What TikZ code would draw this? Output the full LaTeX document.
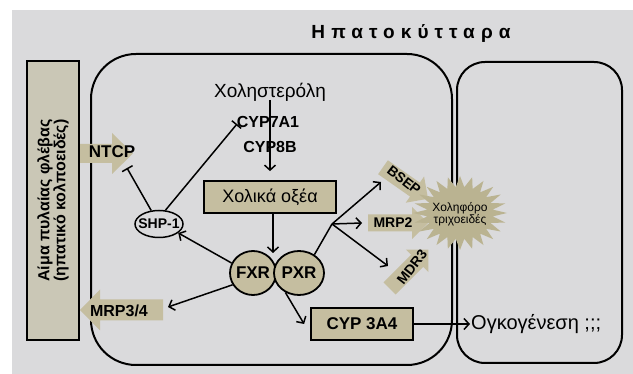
\documentclass[tikz,border=0pt]{standalone}
\usepackage{fontspec}
\setmainfont{Liberation Sans}
\usetikzlibrary{arrows.meta,shapes.geometric}
\definecolor{bg}{RGB}{218,218,220}
\definecolor{kh}{RGB}{197,190,160}
\definecolor{khl}{RGB}{202,199,182}
\definecolor{starc}{RGB}{186,179,145}
\newcommand{\fs}[1]{\fontsize{#1}{#1}\selectfont}
\newcommand{\kar}[7]{%
\begin{scope}[shift={(#1,#2)},rotate=#3]
\fill[kh] (-#4/2,-#5/2) -- (#4/2-#7,-#5/2) -- (#4/2-#7,-#6/2) -- (#4/2,0) -- (#4/2-#7,#6/2) -- (#4/2-#7,#5/2) -- (-#4/2,#5/2) -- cycle;
\end{scope}}
\tikzset{
 arr/.style={line width=1.5pt,-{Straight Barb[length=5pt,width=11pt]}},
 inh/.style={line width=1.5pt,-{Bar[width=12pt]}},
 kbox/.style={draw,line width=1.8pt,fill=kh,inner sep=0pt},
 cell/.style={draw,line width=2pt},
 lbl/.style={font=\bfseries\fs{16},inner sep=0pt},
}
\begin{document}
\begin{tikzpicture}[x=1pt,y=-1pt]
\useasboundingbox (0,0) rectangle (633,374);
\fill[bg] (12,10) rectangle (633,374);
\node[font=\bfseries\fs{19}\addfontfeature{LetterSpace=32}] (title) at (411,33) {Ηπατοκύτταρα};
% cells
\draw[cell,rounded corners=45pt] (91,54) rectangle (452,365);
\draw[cell,rounded corners=28pt] (457,62) rectangle (622,363);
% blood box
\node[draw,line width=1.8pt,fill=khl,rotate=90,minimum width=279,minimum height=52,inner sep=0pt,align=center,font=\bfseries\fs{16}] (blood) at (53,200.5) {Αίμα πυλαίας φλέβας\\(ηπατικό κολποειδές)};
% khaki arrow shapes
\kar{106.5}{153.5}{0}{53}{19}{41}{21}
\kar{121.5}{310}{180}{83}{21}{41}{20}
\kar{398}{223}{0}{60}{17}{32}{16}
\kar{405.5}{183}{-35}{55}{17}{32}{16}
\kar{409}{269}{45}{55}{17}{32}{16}
% starburst
\fill[starc] (507,213) \foreach \i in {1,...,47}{ -- ({460+(47-14*mod(\i,2))*cos(7.5*\i)},{213+(37-11*mod(\i,2))*sin(7.5*\i)}) } -- cycle;
\node[font=\fs{12},align=center,inner sep=0pt] (capil) at (460,214) {Χοληφόρο\\τριχοειδές};
% labels on arrows
\node[lbl,font=\bfseries\fs{17}] (ntcp) at (112,152) {NTCP};
\node[lbl] (mrp34) at (119,311) {MRP3/4};
\node[lbl,font=\bfseries\fs{14}] (mrp2) at (393,223) {MRP2};
\node[lbl,font=\bfseries\fs{14},rotate=-38] (bsep) at (404,180) {BSEP};
\node[lbl,font=\bfseries\fs{14},rotate=52] (mdr3) at (412,267) {MDR3};
% top pathway
\node[font=\fs{19},inner sep=0pt] (chol) at (270,92) {Χοληστερόλη};
\node[lbl,font=\bfseries\fs{16}] (cyp7) at (268,122) {CYP7A1};
\node[lbl,font=\bfseries\fs{16}] (cyp8) at (270,147) {CYP8B};
\node[kbox,minimum width=132,minimum height=32,font=\fs{18}] (bile) at (270,197) {Χολικά οξέα};
\draw[arr] ([yshift=-8pt]chol.center) -- ([yshift=9pt]bile.north);
% receptors
\node[ellipse,draw,line width=1.8pt,fill=kh,minimum width=46,minimum height=44,inner sep=0pt] (fxr) at (253,273) {};
\node[ellipse,draw,line width=1.8pt,fill=kh,minimum width=50,minimum height=44,inner sep=0pt] (pxr) at (299,273) {};
\node[lbl,font=\bfseries\fs{17}] (fxrt) at (fxr.center) {FXR};
\node[lbl,font=\bfseries\fs{17}] (pxrt) at (pxr.center) {PXR};
\coordinate (junc) at (273,253);
\draw[arr] (bile.south -| junc) -- (junc);
% SHP-1
\node[ellipse,draw,line width=1.5pt,fill=bg,minimum width=48,minimum height=27,inner sep=0pt] (shp) at (159,224) {};
\node[lbl,font=\bfseries\fs{14}] (shpt) at (shp.center) {SHP-1};
\coordinate (ntcpbar) at (127,168);
\coordinate (cyp7bar) at (237,124);
\coordinate (mrp34tip) at (168,307);
\draw[arr] (fxr.155) -- (shp.-25);
\draw[inh] (shp.120) -- (ntcpbar);
\draw[inh] (shp.65) -- (cyp7bar);
\draw[arr] (fxr.-150) -- (mrp34tip);
% CYP3A4
\node[kbox,minimum width=102,minimum height=32,font=\bfseries\fs{17}] (cyp3) at (362,324) {CYP 3A4};
\node[anchor=west,font=\fs{20},inner sep=1pt] (onco) at (470,324) {Ογκογένεση ;;;};
\draw[arr] (pxr.-125) -- ([xshift=-6pt]cyp3.west);
\draw[arr] (cyp3.east) -- (onco.west);
% branch to transporters
\coordinate (br) at (332,224);
\coordinate (bseptip) at (381,182);
\coordinate (mrp2tip) at (362,223);
\coordinate (mdr3tip) at (388,266);
\draw[line width=1.5pt] (pxr.50) -- (br);
\draw[arr] (br) -- (bseptip);
\draw[arr] (br) -- (mrp2tip);
\draw[arr] (br) -- (mdr3tip);
\end{tikzpicture}
\end{document}
